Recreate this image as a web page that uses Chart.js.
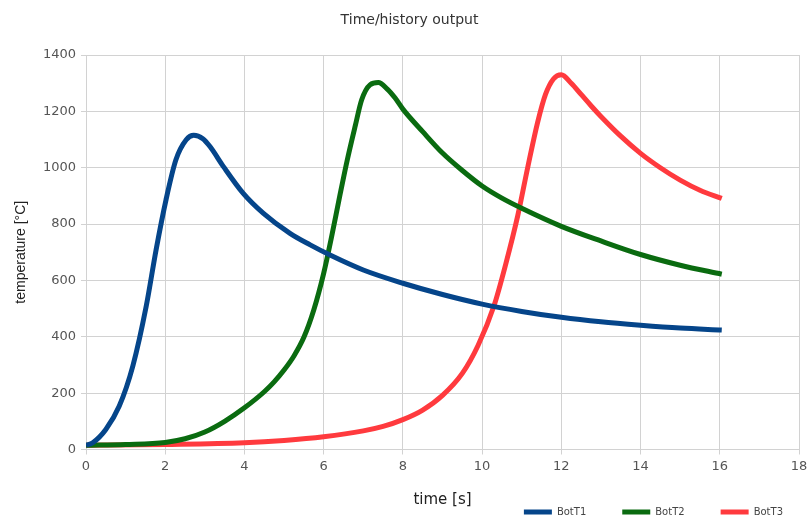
<!DOCTYPE html>
<html>
<head>
<meta charset="utf-8">
<script src="https://cdn.jsdelivr.net/npm/chart.js@4.4.1/dist/chart.umd.min.js"></script>
<style>
  html, body { margin: 0; padding: 0; background: #fff; }
  #wrap { width: 808px; height: 515px; }
</style>
</head>
<body>
<div id="wrap"><canvas id="history-chart"></canvas></div>
<script>
// values: time [s] / temperature [°C]
const timeT1 = [0, 0.17, 0.5, 0.84, 1.18, 1.52, 1.77, 2.02, 2.27, 2.53, 2.72, 2.95, 3.13, 3.47, 3.97, 4.48, 5.15, 5.66, 6.16, 7, 8, 9, 10, 11, 12, 13, 14, 15, 16.05];
const botT1  = [15, 24, 71, 154, 295, 508, 709, 886, 1028, 1099, 1115, 1103, 1075, 1004, 909, 838, 767, 726, 690, 637, 590, 550, 516, 490, 469, 453, 441, 431, 424];

const timeT2 = [0, 1, 2, 2.5, 3, 3.5, 4, 4.5, 4.75, 5, 5.25, 5.5, 5.75, 6, 6.2, 6.4, 6.6, 6.8, 6.96, 7.17, 7.38, 7.6, 7.8, 8, 8.5, 9, 9.5, 10, 10.5, 11, 12, 13, 14, 15, 16.05];
const botT2  = [15, 18, 25, 38, 62, 100, 148, 205, 240, 282, 332, 398, 495, 625, 755, 895, 1030, 1150, 1241, 1294, 1302, 1280, 1248, 1208, 1128, 1052, 990, 935, 892, 856, 792, 740, 692, 654, 622];

const timeT3 = [0, 2, 4, 5, 6, 7, 7.5, 8, 8.5, 9, 9.5, 9.9, 10.3, 10.6, 10.9, 11.15, 11.4, 11.6, 11.8, 12, 12.25, 12.5, 12.75, 13, 13.5, 14, 14.5, 15, 15.5, 16.05];
const botT3  = [15, 18, 24, 32, 45, 66, 82, 106, 140, 192, 270, 370, 510, 660, 830, 1000, 1160, 1260, 1315, 1330, 1300, 1260, 1220, 1182, 1112, 1051, 1000, 956, 920, 891];

const seriesNames = ['BotT1', 'BotT2', 'BotT3'];
const seriesColors = ['#05458a', '#0a6b10', '#ff3a3e'];

const xMin = 0, xMax = 18, xStep = 2;
const yMin = 0, yMax = 1400, yStep = 200;

const toPoints = (xs, ys) => xs.map((x, i) => ({ x: x, y: ys[i] }));
const allSeries = [toPoints(timeT1, botT1), toPoints(timeT2, botT2), toPoints(timeT3, botT3)];

Chart.defaults.font.family = '"DejaVu Sans", "Liberation Sans", sans-serif';
Chart.defaults.color = '#555';

const gridColor = '#d2d2d2';

new Chart(document.getElementById('history-chart'), {
  type: 'line',
  data: {
    datasets: allSeries.map((pts, i) => ({
      label: seriesNames[i],
      data: pts,
      borderColor: seriesColors[i],
      backgroundColor: seriesColors[i],
      borderWidth: 5,
      pointRadius: 0,
      cubicInterpolationMode: 'monotone',
      fill: false
    }))
  },
  options: {
    responsive: true,
    maintainAspectRatio: false,
    animation: false,
    layout: { padding: { top: 0, left: 0, right: -11, bottom: 0 } },
    plugins: {
      title: {
        display: true,
        text: 'Time/history output',
        color: '#333',
        font: { size: 14, weight: 'normal' },
        padding: { top: 12.1, bottom: 26.1 }
      },
      legend: {
        position: 'bottom',
        align: 'end',
        maxHeight: 44,
        labels: {
          boxWidth: 28,
          boxHeight: 5,
          padding: 36,
          color: '#444',
          font: { size: 10 },
          // plain bars, no outline round the legend boxes
          generateLabels: chart => Chart.defaults.plugins.legend.labels.generateLabels(chart)
            .map(l => Object.assign(l, { lineWidth: 0 }))
        }
      },
      tooltip: { enabled: false }
    },
    scales: {
      x: {
        type: 'linear',
        min: xMin,
        max: xMax,
        ticks: { stepSize: xStep, padding: 4, font: { size: 13 } },
        grid: { color: gridColor, tickLength: 5 },
        border: { color: gridColor },
        title: {
          display: true,
          text: 'time [s]',
          color: '#222',
          font: { size: 15 },
          padding: { top: 0, bottom: -38 }
        },
        afterFit: s => { s.height = 21.5; s.paddingRight = 9; }
      },
      y: {
        min: yMin,
        max: yMax,
        ticks: { stepSize: yStep, padding: 5, font: { size: 13 }, callback: v => String(v) },
        grid: { color: gridColor, tickLength: 5 },
        border: { color: gridColor },
        title: {
          display: true,
          text: 'temperature [°C]',
          color: '#222',
          font: { family: '"Liberation Sans", sans-serif', size: 14 },
          padding: { top: 12.6, bottom: 0 }
        },
        afterFit: s => { s.width = 86; }
      }
    }
  }
});
</script>
</body>
</html>
